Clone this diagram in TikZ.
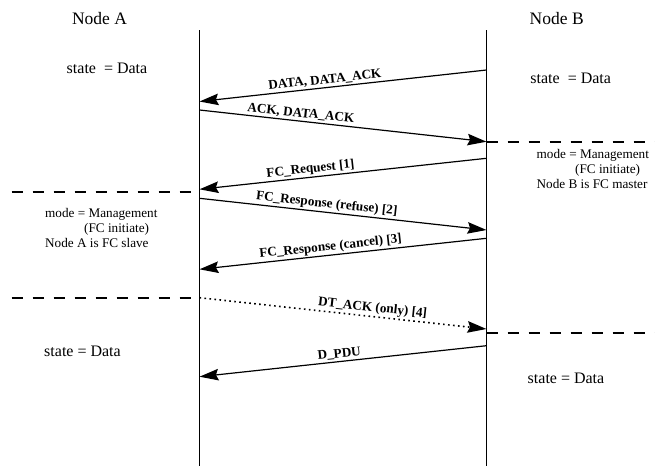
\documentclass[tikz,border=0pt]{standalone}
\usepackage{fontspec}
\setmainfont{Liberation Serif}
\usetikzlibrary{arrows.meta}

\tikzset{
  lifeline/.style={line width=1.2pt},
  msg/.style={line width=1.2pt, -{Stealth[length=19pt,width=11.5pt,inset=2.5pt]}},
  dotmsg/.style={line width=1.6pt, dash pattern=on 1.6pt off 3.4pt},
  msglbl/.style={font=\fontsize{13.2}{15}\selectfont\bfseries, above, sloped, inner sep=1.5pt},
  phase/.style={line width=2pt, dash pattern=on 11.5pt off 9.5pt},
  heading/.style={font=\fontsize{17.5}{20}\selectfont},
  statetxt/.style={font=\fontsize{16}{19}\selectfont},
  modetxt/.style={font=\fontsize{13.2}{15}\selectfont, align=left, anchor=north west, inner sep=0pt}
}

\begin{document}
\begin{tikzpicture}[x=1pt, y=-1pt]
  \useasboundingbox (0,0) rectangle (655,466);

  % Headings and lifelines
  \node[heading] (nodeA) at (99.5,19) {Node A};
  \node[heading] (nodeB) at (556.7,19) {Node B};
  \coordinate (topA) at (199.5,30);
  \coordinate (botA) at (199.5,466);
  \coordinate (topB) at (486.5,30);
  \coordinate (botB) at (486.5,466);
  \draw[lifeline] (topA) -- (botA);
  \draw[lifeline] (topB) -- (botB);

  % Message end points on the lifelines
  \coordinate (b1) at (486.5,70);   \coordinate (a1) at (199.5,101.5);
  \coordinate (a2) at (199.5,110);  \coordinate (b2) at (486.5,141.7);
  \coordinate (b3) at (486.5,158.3);\coordinate (a3) at (199.5,189.3);
  \coordinate (a4) at (199.5,198.3);\coordinate (b4) at (486.5,230);
  \coordinate (b5) at (486.5,238.3);\coordinate (a5) at (199.5,269.3);
  \coordinate (a6) at (199.5,297.7);\coordinate (b6) at (486.5,329);
  \coordinate (b7) at (486.5,345.7);\coordinate (a7) at (199.5,376.7);

  % Messages
  \draw[msg] (b1) -- node[msglbl, pos=0.56] {DATA, DATA\_ACK} (a1);
  \draw[msg] (a2) -- node[msglbl, pos=0.35] {ACK, DATA\_ACK} (b2);
  \draw[msg] (b3) -- node[msglbl, pos=0.61] {FC\_Request [1]} (a3);
  \draw[msg] (a4) -- node[msglbl, pos=0.44] {FC\_Response (refuse) [2]} (b4);
  \draw[msg] (b5) -- node[msglbl, pos=0.54] {FC\_Response (cancel) [3]} (a5);
  \draw[msg, dotmsg] (a6) -- node[msglbl, pos=0.6] {DT\_ACK (only) [4]} (b6);
  \draw[msg] (b7) -- node[msglbl, pos=0.51] {D\_PDU} (a7);

  % Mode boundaries
  \coordinate (ph1L) at (11.7,192.3);  \coordinate (ph1R) at (192,192.3);
  \coordinate (ph2L) at (11.7,297.5);  \coordinate (ph2R) at (192,297.5);
  \coordinate (ph3L) at (486.5,141.7); \coordinate (ph3R) at (655,141.7);
  \coordinate (ph4L) at (486.5,333.3); \coordinate (ph4R) at (655,333.3);
  \draw[phase] (ph1L) -- (ph1R);
  \draw[phase] (ph2L) -- (ph2R);
  \draw[phase] (ph3L) -- (ph3R);
  \draw[phase] (ph4L) -- (ph4R);

  % State texts
  \node[statetxt] (stA1) at (107,68) {state\ \ = Data};
  \node[statetxt] (stB1) at (570.7,78) {state\ \ = Data};
  \node[statetxt] (stA2) at (82.5,351) {state = Data};
  \node[statetxt] (stB2) at (566,378) {state = Data};

  % Mode texts
  \node[modetxt] (modeB) at (536.5,149) {mode = Management\\\hspace*{38.5pt}(FC initiate)\\Node B is FC master};
  \node[modetxt] (modeA) at (45,208) {mode = Management\\\hspace*{39pt}(FC initiate)\\Node A is FC slave};
\end{tikzpicture}
\end{document}
